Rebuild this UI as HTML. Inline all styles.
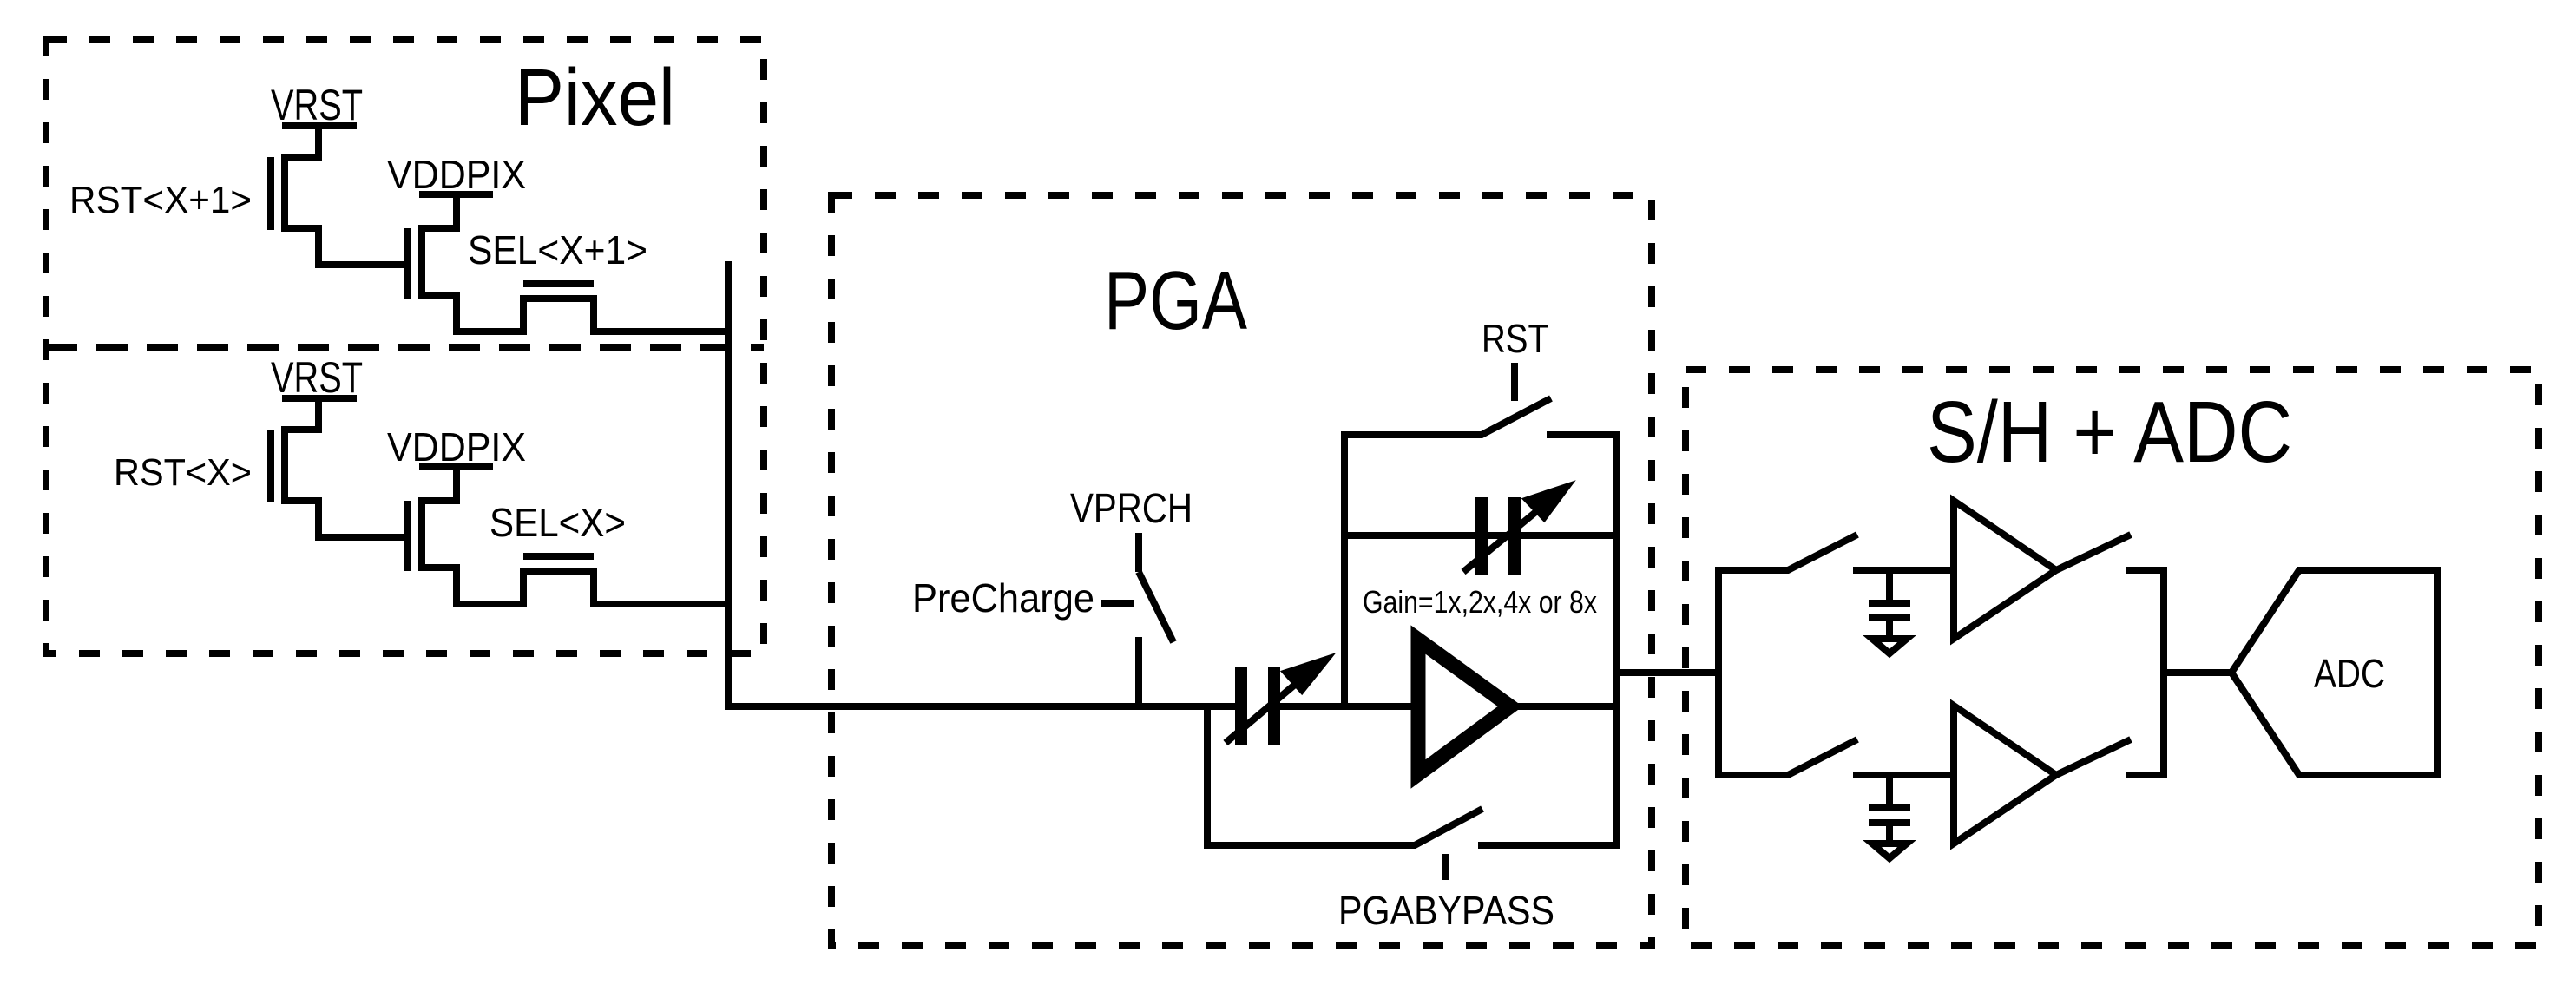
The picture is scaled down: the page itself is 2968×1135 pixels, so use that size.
<!DOCTYPE html>
<html><head><meta charset="utf-8"><style>
html,body{margin:0;padding:0;background:#fff;}
svg{display:block;}
text{font-family:"Liberation Sans",sans-serif;fill:#000;}
</style></head><body>
<svg width="2968" height="1135" viewBox="0 0 2968 1135" xmlns="http://www.w3.org/2000/svg">
<g fill="none" stroke="#000" stroke-width="8">
<!-- boxes -->
<g stroke-dasharray="24 26">
<rect x="53" y="45" width="827" height="708"/>
<rect x="958" y="225" width="945" height="865"/>
<rect x="1942" y="426" width="983" height="664"/>
</g>
<line x1="53" y1="400" x2="880" y2="400" stroke-dasharray="36 22"/>

<!-- pixel 1 -->
<g id="px">
<line x1="325" y1="145" x2="411" y2="145"/>
<polyline points="367,145 367,181 328,181 328,263 367,263 367,305 469,305"/>
<line x1="312" y1="181" x2="312" y2="265"/>
<line x1="469" y1="263" x2="469" y2="344"/>
<line x1="483" y1="224" x2="568" y2="224"/>
<polyline points="526,224 526,263 486,263 486,340 526,340 526,382 603,382 603,344 684,344 684,382 839,382"/>
<line x1="603" y1="327" x2="684" y2="327"/>
</g>
<g transform="translate(0,314)">
<line x1="325" y1="145" x2="411" y2="145"/>
<polyline points="367,145 367,181 328,181 328,263 367,263 367,305 469,305"/>
<line x1="312" y1="181" x2="312" y2="265"/>
<line x1="469" y1="263" x2="469" y2="344"/>
<line x1="483" y1="224" x2="568" y2="224"/>
<polyline points="526,224 526,263 486,263 486,340 526,340 526,382 603,382 603,344 684,344 684,382 839,382"/>
<line x1="603" y1="327" x2="684" y2="327"/>
</g>
<line x1="839" y1="301" x2="839" y2="818"/>
<polyline points="835,814 1430,814"/>

<!-- precharge -->
<line x1="1312" y1="814" x2="1312" y2="734"/>
<line x1="1352" y1="740" x2="1312" y2="659"/>
<line x1="1312" y1="659" x2="1312" y2="614"/>
<line x1="1268" y1="695" x2="1307" y2="695"/>

<!-- input cap -->
<line x1="1430" y1="769" x2="1430" y2="859" stroke-width="14"/>
<line x1="1468" y1="769" x2="1468" y2="859" stroke-width="14"/>
<line x1="1412" y1="856" x2="1512" y2="772"/>
<polygon points="1528,760 1500,795 1482,775" fill="#000"/>
<line x1="1468" y1="814" x2="1626" y2="814"/>

<!-- feedback -->
<polyline points="1549,814 1549,501 1707,501 1787,459"/>
<polyline points="1782,501 1862,501 1862,974 1703,974"/>
<line x1="1745" y1="418" x2="1745" y2="462"/>
<line x1="1549" y1="617" x2="1862" y2="617"/>
<line x1="1707" y1="573" x2="1707" y2="662" stroke-width="14"/>
<line x1="1745" y1="573" x2="1745" y2="662" stroke-width="14"/>
<line x1="1686" y1="659" x2="1790" y2="573"/>
<polygon points="1805,561 1779,596 1760,576" fill="#000"/>

<!-- opamp -->
<polygon points="1634,737 1634,892 1740,814" stroke-width="17"/>
<line x1="1749" y1="814" x2="1862" y2="814"/>

<!-- bypass -->
<polyline points="1391,814 1391,974 1630,974 1708,932"/>
<line x1="1666" y1="984" x2="1666" y2="1014"/>

<!-- output -->
<line x1="1862" y1="775" x2="1980" y2="775"/>
<line x1="1980" y1="657" x2="1980" y2="893"/>

<!-- S/H channels -->
<g id="ch">
<polyline points="1976,657 2060,657 2140,616"/>
<line x1="2135" y1="657" x2="2251" y2="657"/>
<line x1="2177" y1="657" x2="2177" y2="695"/>
<line x1="2153" y1="695" x2="2201" y2="695"/>
<line x1="2153" y1="712" x2="2201" y2="712"/>
<line x1="2177" y1="712" x2="2177" y2="734"/>
<polygon points="2157,736 2197,736 2177,753"/>
<polygon points="2251,577 2251,736 2369,657"/>
<line x1="2369" y1="657" x2="2455" y2="616"/>
<polyline points="2450,657 2493,657"/>
</g>
<g transform="translate(0,236)">
<polyline points="1976,657 2060,657 2140,616"/>
<line x1="2135" y1="657" x2="2251" y2="657"/>
<line x1="2177" y1="657" x2="2177" y2="695"/>
<line x1="2153" y1="695" x2="2201" y2="695"/>
<line x1="2153" y1="712" x2="2201" y2="712"/>
<line x1="2177" y1="712" x2="2177" y2="734"/>
<polygon points="2157,736 2197,736 2177,753"/>
<polygon points="2251,577 2251,736 2369,657"/>
<line x1="2369" y1="657" x2="2455" y2="616"/>
<polyline points="2450,657 2493,657"/>
</g>
<line x1="2493" y1="653" x2="2493" y2="897"/>
<line x1="2493" y1="775" x2="2571" y2="775"/>
<polygon points="2571,775 2649,657 2808,657 2808,893 2649,893"/>
</g>

<!-- text -->
<g>
<text x="593" y="144" font-size="93" textLength="185" lengthAdjust="spacingAndGlyphs">Pixel</text>
<text x="312" y="138" font-size="50" textLength="106" lengthAdjust="spacingAndGlyphs">VRST</text>
<text x="446" y="217" font-size="46" textLength="160" lengthAdjust="spacingAndGlyphs">VDDPIX</text>
<text x="80" y="245" font-size="44" textLength="210" lengthAdjust="spacingAndGlyphs">RST&lt;X+1&gt;</text>
<text x="539" y="304" font-size="46" textLength="207" lengthAdjust="spacingAndGlyphs">SEL&lt;X+1&gt;</text>
<text x="312" y="452" font-size="50" textLength="106" lengthAdjust="spacingAndGlyphs">VRST</text>
<text x="446" y="531" font-size="46" textLength="160" lengthAdjust="spacingAndGlyphs">VDDPIX</text>
<text x="131" y="559" font-size="44" textLength="159" lengthAdjust="spacingAndGlyphs">RST&lt;X&gt;</text>
<text x="564" y="618" font-size="46" textLength="157" lengthAdjust="spacingAndGlyphs">SEL&lt;X&gt;</text>
<text x="1272" y="379" font-size="96" textLength="165" lengthAdjust="spacingAndGlyphs">PGA</text>
<text x="1707" y="406" font-size="46" textLength="77" lengthAdjust="spacingAndGlyphs">RST</text>
<text x="1233" y="602" font-size="48" textLength="141" lengthAdjust="spacingAndGlyphs">VPRCH</text>
<text x="1051" y="705" font-size="46" textLength="210" lengthAdjust="spacingAndGlyphs">PreCharge</text>
<text x="1570" y="706" font-size="36" textLength="270" lengthAdjust="spacingAndGlyphs">Gain=1x,2x,4x or 8x</text>
<text x="1542" y="1065" font-size="46" textLength="249" lengthAdjust="spacingAndGlyphs">PGABYPASS</text>
<text x="2220" y="532" font-size="100" textLength="421" lengthAdjust="spacingAndGlyphs">S/H + ADC</text>
<text x="2666" y="792" font-size="46" textLength="82" lengthAdjust="spacingAndGlyphs">ADC</text>
</g>
</svg>
</body></html>
